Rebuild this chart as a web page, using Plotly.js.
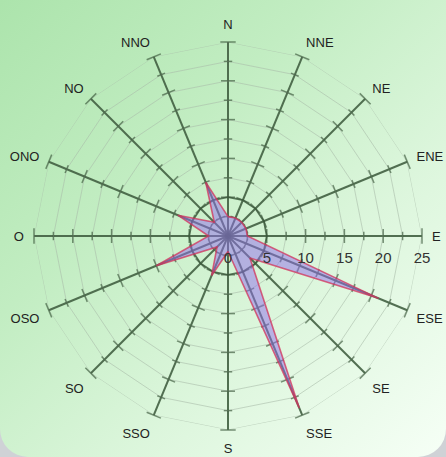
<!DOCTYPE html>
<html>
<head>
<meta charset="utf-8">
<script src="https://cdn.plot.ly/plotly-3.0.1.min.js"></script>
<style>
html,body{margin:0;padding:0;width:446px;height:457px;overflow:hidden;background:#cfd2d6;}
#wrap{position:absolute;left:0;top:0;width:446px;height:457px;border-radius:0 0 28px 28px;
background:linear-gradient(135deg,#ace4ac 0%,#c2edc2 35%,#dcf6dc 65%,#f6fff6 100%);}
#chart{position:absolute;left:0;top:0;width:446px;height:457px;}
</style>
</head>
<body>
<div id="wrap"></div>
<div id="chart"></div>
<script>
// Directions (clockwise from north)
const directions = ["N","NNE","NE","ENE","E","ESE","SE","SSE","S","SSO","SO","OSO","O","ONO","NO","NNO"];
const compassAngles = [0,22.5,45,67.5,90,112.5,135,157.5,180,202.5,225,247.5,270,292.5,315,337.5];
// Series values
const windValues = [2.5,2.5,2.5,2.5,2.5,21,4,24,2,5.5,2,10,2.5,7,2.5,7.5];
// Radial axis
const radialTicks = [0,5,10,15,20,25];
const radialMax = 25;
const minorStep = 2.5;

const traces = [];
const ringDirs = directions.concat([directions[0]]);

// light grid rings (every 2.5)
const ringVals=[]; for(let v=minorStep; v<=radialMax+1e-9; v+=minorStep) ringVals.push(v);
ringVals.forEach(v=>{
  if (v===radialTicks[1]) return;
  traces.push({
    type:'scatterpolar', mode:'lines', theta:ringDirs, r:ringDirs.map(()=>v),
    line:{color:'rgba(170,188,170,0.6)', width:1}, hoverinfo:'skip', showlegend:false
  });
});

// dark ring at r = 5
traces.push({
  type:'scatterpolar', mode:'lines', theta:ringDirs, r:ringDirs.map(()=>radialTicks[1]),
  line:{color:'rgba(60,90,60,0.85)', width:1.8}, hoverinfo:'skip', showlegend:false
});

// tick marks on each spoke
const tkR=[], tkT=[], tkA=[], tkS=[];
for (let i=0;i<directions.length;i++){
  for (let v=minorStep; v<=radialMax+1e-9; v+=minorStep){
    tkR.push(v); tkT.push(directions[i]); tkA.push(compassAngles[i]);
    const major = Math.abs(v/5-Math.round(v/5))<1e-6;
    tkS.push(v===radialMax?11:(major?10:6));
  }
}
traces.push({
  type:'scatterpolar', mode:'markers', r:tkR, theta:tkT,
  marker:{symbol:'line-ew', size:tkS, angle:tkA, line:{color:'rgba(60,90,60,0.95)', width:1.5}},
  hoverinfo:'skip', showlegend:false
});

// data polygon
traces.push({
  type:'scatterpolar', mode:'lines', name:'vent',
  r:windValues.concat([windValues[0]]), theta:directions.concat([directions[0]]),
  fill:'toself', fillcolor:'rgba(145,110,235,0.5)',
  line:{color:'rgba(210,50,90,0.75)', width:1.6}, showlegend:false
});

// centre blob
traces.push({
  type:'scatterpolar', mode:'markers', r:[0], theta:[directions[0]],
  marker:{size:15, color:'rgba(215,40,70,0.8)'}, hoverinfo:'skip', showlegend:false
});

const layout = {
  width:446, height:457,
  margin:{l:0,r:0,t:0,b:0},
  paper_bgcolor:'rgba(0,0,0,0)', plot_bgcolor:'rgba(0,0,0,0)',
  showlegend:false,
  polar:{
    domain:{x:[34/446,422/446], y:[27/457,415/457]},
    bgcolor:'rgba(0,0,0,0)',
    gridshape:'linear',
    angularaxis:{
      type:'category', categoryarray:directions, direction:'clockwise', rotation:90,
      showline:false, gridcolor:'rgba(65,95,65,0.9)', gridwidth:2,
      ticks:'outside', ticklen:7, tickcolor:'rgba(0,0,0,0)',
      tickfont:{family:'Arial, Liberation Sans, sans-serif', size:13, color:'#222'}
    },
    radialaxis:{
      range:[0,radialMax], tickvals:radialTicks, ticktext:radialTicks.map(String),
      angle:0, side:'clockwise', tickangle:0, showgrid:false,
      showline:false,
      ticks:'outside', ticklen:8, tickcolor:'rgba(0,0,0,0)',
      tickfont:{family:'Arial, Liberation Sans, sans-serif', size:15, color:'#333'}
    }
  }
};

Plotly.newPlot('chart', traces, layout, {displayModeBar:false, staticPlot:true});
</script>
</body>
</html>
